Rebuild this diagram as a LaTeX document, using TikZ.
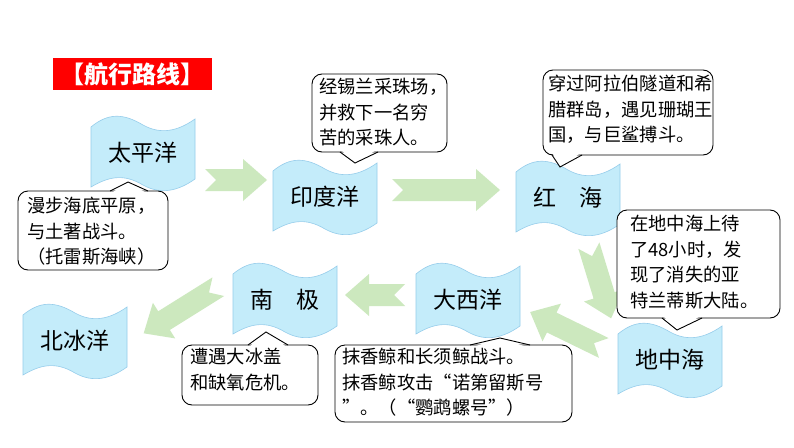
\documentclass[tikz,border=0pt]{standalone}
\usepackage{fontspec}
\setmainfont{Noto Sans CJK SC}
\definecolor{flagc}{RGB}{196,236,250}
\definecolor{flagd}{RGB}{150,205,235}
\definecolor{arrc}{RGB}{204,232,190}
\begin{document}
\begin{tikzpicture}[x=1pt,y=-1pt,
  flagfill/.style={fill=flagc, draw=flagd, line width=0.6pt},
  flagtext/.style={font=\fontsize{23}{26}\selectfont},
  arrowfill/.style={fill=arrc, draw=none},
  callbox/.style={draw=black, fill=white, line width=0.9pt, rounded corners=10pt},
  calltext/.style={font=\fontsize{18.3}{25.5}\selectfont, align=left, anchor=north west, inner sep=0pt}]
\useasboundingbox (0,0) rectangle (794,447);
\fill[white] (0,0) rectangle (794,447);
\newcommand{\myflag}[4]{%
  \path[flagfill,shift={(#2,#3)}] (-52,-26) .. controls (-35,-40) and (-20,-40) .. (0,-28)
     .. controls (18,-18) and (35,-22) .. (52,-34) -- (52,26)
     .. controls (35,38) and (18,42) .. (0,32) .. controls (-20,20) and (-35,24) .. (-52,34) -- cycle;
  \node[flagtext] (#1) at (#2,#3) {#4};}
\newcommand{\garrow}[5]{%
  \path[arrowfill,shift={(#2,#3)},rotate=#4]
    (-#5/2,-11) -- (#5/2-24,-11) -- (#5/2-24,-21) -- (#5/2,0) -- (#5/2-24,21) -- (#5/2-24,11)
    -- (-#5/2,11) -- (-#5/2+11,0) -- cycle;
  \coordinate (#1) at (#2,#3);}
% title
\node[fill=red, text=white, font=\fontsize{24}{26}\selectfont\bfseries, minimum width=159pt, minimum height=32pt, inner sep=0pt] (title) at (132,74) {【航行路线】};
% flags
\myflag{tpy}{143}{153}{太平洋}
\myflag{ydy}{325}{197}{印度洋}
\myflag{hh}{568}{198}{红\quad 海}
\myflag{dzh}{670}{360}{地中海}
\myflag{dxy}{468}{300}{大西洋}
\myflag{nj}{285}{300}{南\quad 极}
\myflag{bby}{75}{341}{北冰洋}
% arrows
\garrow{a1}{236}{180}{0}{62}
\garrow{a2}{446}{190}{0}{108}
\garrow{a3}{600}{282}{-73}{76}
\garrow{a4}{567}{330}{154}{82}
\garrow{a5}{375}{295}{180}{60}
\garrow{a6}{181}{310}{-148}{88}
% 1
\path[callbox] (18,191) rectangle (168,270);
\fill[white] (110,194) -- (128,182) -- (148,194) -- cycle;
\draw[line width=0.9pt] (110,191) -- (128,182) -- (148,191);
\node[calltext] (c1) at (27,197) {漫步海底平原，\\与土著战斗。\\（托雷斯海峡）};
% 2
\path[callbox] (312,74) rectangle (447,152);
\fill[white] (340,149) -- (355,163) -- (378,149) -- cycle;
\draw[line width=0.9pt] (340,152) -- (355,163) -- (378,152);
\node[calltext] (c2) at (319,78) {经锡兰采珠场，\\并救下一名穷\\苦的采珠人。};
% 3
\path[callbox] (543,70) rectangle (713,155);
\fill[white] (552,152) -- (560,167) -- (582,152) -- cycle;
\draw[line width=0.9pt] (552,155) -- (560,167) -- (582,155);
\node[calltext] (c3) at (548,75) {穿过阿拉伯隧道和希\\腊群岛，遇见珊瑚王\\国，与巨鲨搏斗。};
% 4
\path[callbox] (617,210) rectangle (780,318);
\fill[white] (662,315) -- (677,330) -- (702,315) -- cycle;
\draw[line width=0.9pt] (662,318) -- (677,330) -- (702,318);
\node[calltext] (c4) at (630,215) {在地中海上待\\了48小时，发\\现了消失的亚\\特兰蒂斯大陆。};
% 5
\path[callbox] (182,345) rectangle (318,405);
\fill[white] (248,348) -- (266,332) -- (288,348) -- cycle;
\draw[line width=0.9pt] (248,345) -- (266,332) -- (288,345);
\node[calltext] (c5) at (190,348) {遭遇大冰盖\\和缺氧危机。};
% 6
\path[callbox] (335,345) rectangle (572,422);
\fill[white] (470,348) -- (500,338) -- (530,348) -- cycle;
\draw[line width=0.9pt] (470,345) -- (500,338) -- (530,345);
\node[calltext] (c6) at (342,348) {抹香鲸和长须鲸战斗。\\抹香鲸攻击“诺第留斯号\\”。（“鹦鹉螺号”）};
\end{tikzpicture}
\end{document}
